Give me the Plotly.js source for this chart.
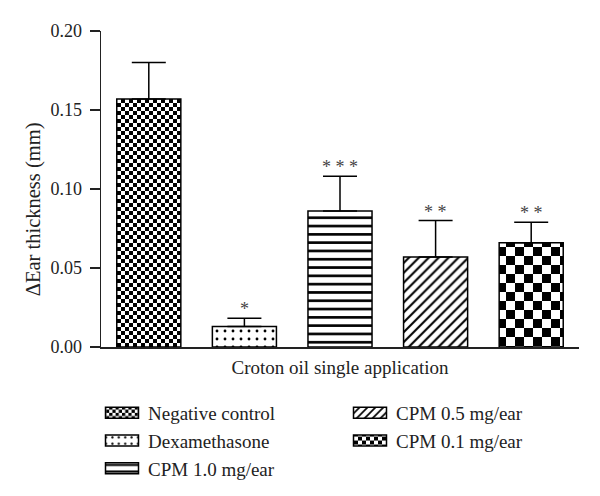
<!DOCTYPE html>
<html>
<head>
<meta charset="utf-8">
<script src="https://cdn.plot.ly/plotly-3.0.1.min.js"></script>
<style>html,body{margin:0;padding:0;background:#fff;}#chart{width:600px;height:496px;}</style>
</head>
<body>
<div id="chart"></div>
<script>
const groups = ['Negative control', 'Dexamethasone', 'CPM 1.0 mg/ear', 'CPM 0.5 mg/ear', 'CPM 0.1 mg/ear'];
const means = [0.157, 0.013, 0.086, 0.057, 0.066];
const errors = [0.023, 0.0052, 0.022, 0.023, 0.013];
const stars = ['', '*', '* * *', '* *', '* *'];
const legendOf = ['legend', 'legend', 'legend', 'legend2', 'legend2'];
const yTicks = [0, 0.05, 0.10, 0.15, 0.20];
const yTitle = 'ΔEar thickness (mm)';
const xTitle = 'Croton oil single application';

const patterns = [
  {shape: '+', size: 8, solidity: 0.5},     // fine checkerboard (replaced below)
  {shape: '.', size: 8, solidity: 0.1},
  {shape: '-', size: 8.3, solidity: 0.32},
  {shape: '/', size: 7, solidity: 0.3},
  {shape: '+', size: 18, solidity: 0.5}     // coarse checkerboard (replaced below)
];

const FONT = 'Liberation Serif, Times New Roman, serif';

const traces = groups.map((g, i) => ({
  type: 'bar',
  name: g,
  x: [g],
  y: [means[i]],
  width: 0.67,
  legend: legendOf[i],
  marker: {
    color: '#ffffff',
    line: {color: '#000000', width: 1.5},
    pattern: Object.assign({fgcolor: '#000000', bgcolor: '#ffffff', fillmode: 'replace'}, patterns[i])
  },
  error_y: {type: 'data', symmetric: false, array: [errors[i]], arrayminus: [0],
            color: '#000000', thickness: 1.5, width: 17},
  hoverinfo: 'skip'
}));

const annotations = groups.map((g, i) => ({
  x: g, y: means[i] + errors[i], xref: 'x', yref: 'y',
  text: stars[i], showarrow: false, yanchor: 'bottom', yshift: -3,
  font: {family: FONT, size: 18, color: '#444444'}
})).filter(a => a.text);

annotations.push({
  text: yTitle, xref: 'paper', yref: 'paper', x: 0, y: 0.436,
  xanchor: 'center', yanchor: 'middle', xshift: -68, textangle: -90, showarrow: false,
  font: {family: FONT, size: 20.5, color: '#222222'}
});

const layout = {
  width: 600, height: 496,
  margin: {l: 101, r: 21, t: 31, b: 148.5, autoexpand: false},
  paper_bgcolor: '#ffffff', plot_bgcolor: '#ffffff',
  font: {family: FONT, size: 18, color: '#222222'},
  barmode: 'overlay',
  showlegend: true,
  xaxis: {
    type: 'category', categoryorder: 'array', categoryarray: groups,
    range: [-0.5, 4.5], showticklabels: false, ticks: '',
    showline: true, linecolor: '#222', linewidth: 1.5, showgrid: false, zeroline: false,
    title: {text: xTitle, standoff: 13, font: {family: FONT, size: 19}}
  },
  yaxis: {
    range: [0, 0.2], tickvals: yTicks, tickformat: '.2f',
    ticks: 'outside', ticklen: 10, tickwidth: 1.5, tickcolor: '#222',
    ticklabelstandoff: 4,
    showline: true, linecolor: '#222', linewidth: 1.5, showgrid: false, zeroline: false,
    tickfont: {family: FONT, size: 18}
  },
  legend: {
    xref: 'container', yref: 'container', x: 96 / 600, y: 1 - 394 / 496,
    xanchor: 'left', yanchor: 'top', orientation: 'v', itemwidth: 42,
    font: {family: FONT, size: 19, color: '#222'}, bgcolor: 'rgba(0,0,0,0)',
    traceorder: 'normal', itemclick: false
  },
  legend2: {
    xref: 'container', yref: 'container', x: 344 / 600, y: 1 - 394 / 496,
    xanchor: 'left', yanchor: 'top', orientation: 'v', itemwidth: 42,
    font: {family: FONT, size: 19, color: '#222'}, bgcolor: 'rgba(0,0,0,0)',
    traceorder: 'normal', itemclick: false
  },
  annotations: annotations
};

const NS = 'http://www.w3.org/2000/svg';
function fixStyles() {
  document.querySelectorAll('pattern').forEach(p => {
    const d = p.__data__;
    if (typeof d === 'string' && d.split(';')[0] === '+') {
      const s = parseFloat(p.getAttribute('width'));
      while (p.firstChild) p.removeChild(p.firstChild);
      const mk = (x, y, w, h, fill) => {
        const r = document.createElementNS(NS, 'rect');
        r.setAttribute('x', x); r.setAttribute('y', y);
        r.setAttribute('width', w); r.setAttribute('height', h);
        r.setAttribute('fill', fill);
        p.appendChild(r);
      };
      mk(0, 0, s, s, '#ffffff');
      mk(0, 0, s / 2, s / 2, '#000000');
      mk(s / 2, s / 2, s / 2, s / 2, '#000000');
    }
  });
  document.querySelectorAll('g.legendpoints path').forEach(path => {
    path.setAttribute('d', 'M16.5,5.5H-16.5V-5.5H16.5Z');
  });
}

const gd = document.getElementById('chart');
Plotly.newPlot(gd, traces, layout, {displayModeBar: false, staticPlot: true}).then(() => {
  fixStyles();
  gd.on && gd.on('plotly_afterplot', fixStyles);
});
</script>
</body>
</html>
